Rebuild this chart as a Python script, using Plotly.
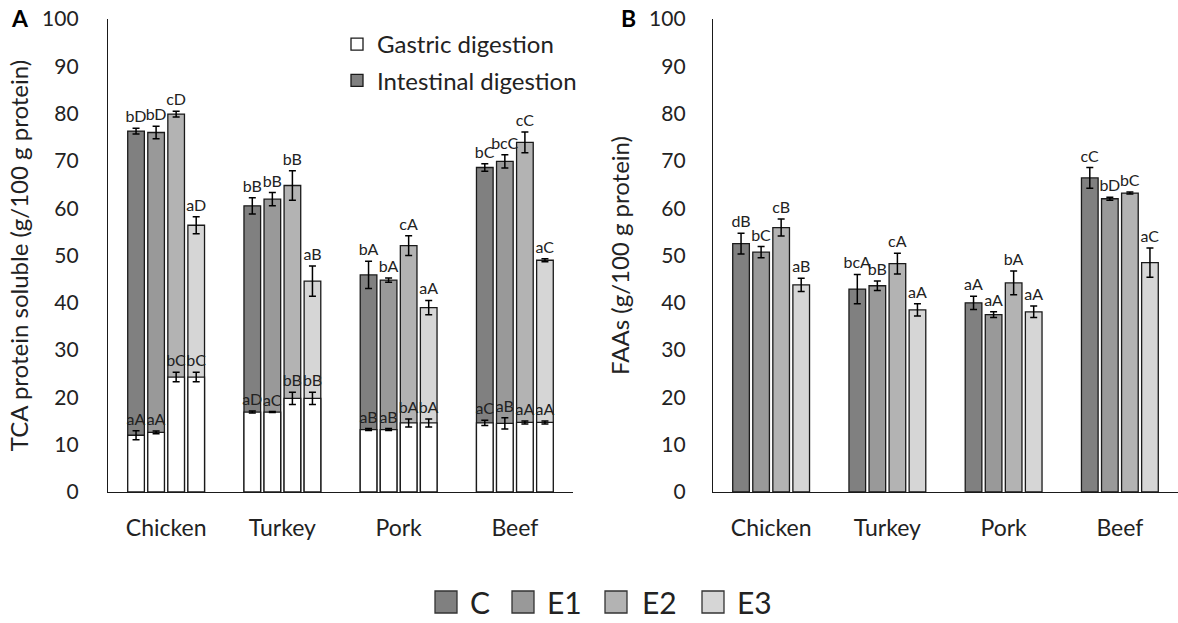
import plotly.graph_objects as go

categories = ["Chicken", "Turkey", "Pork", "Beef"]
treatments = ["C", "E1", "E2", "E3"]
colors = {"C": "#808080", "E1": "#999999", "E2": "#b3b3b3", "E3": "#d6d6d6"}

# Panel A: TCA soluble protein (g/100 g protein)
gastric = {
    "C":  [12.0, 16.9, 13.2, 14.6],
    "E1": [12.6, 16.9, 13.2, 14.5],
    "E2": [24.3, 19.8, 14.6, 14.7],
    "E3": [24.3, 19.8, 14.6, 14.7],
}
gastric_err = {
    "C":  [0.95, 0.2, 0.2, 0.55],
    "E1": [0.3, 0.1, 0.2, 1.2],
    "E2": [1.0, 1.3, 0.85, 0.3],
    "E3": [1.0, 1.3, 0.85, 0.3],
}
gastric_lbl = {
    "C":  ["aA", "aD", "aB", "aC"],
    "E1": ["aA", "aC", "aB", "aB"],
    "E2": ["bC", "bB", "bA", "aA"],
    "E3": ["bC", "bB", "bA", "aA"],
}
intestinal = {
    "C":  [76.3, 60.5, 45.9, 68.6],
    "E1": [76.0, 61.9, 44.8, 69.9],
    "E2": [79.9, 64.8, 52.1, 73.9],
    "E3": [56.4, 44.6, 39.0, 49.0],
}
intestinal_err = {
    "C":  [0.6, 1.7, 2.9, 0.8],
    "E1": [1.3, 1.4, 0.45, 1.4],
    "E2": [0.6, 3.1, 2.1, 2.2],
    "E3": [1.8, 3.2, 1.5, 0.3],
}
intestinal_lbl = {
    "C":  ["bD", "bB", "bA", "bC"],
    "E1": ["bD", "bB", "bA", "bcC"],
    "E2": ["cD", "bB", "cA", "cC"],
    "E3": ["aD", "aB", "aA", "aC"],
}

# Panel B: FAAs (g/100 g protein)
faas = {
    "C":  [52.5, 42.9, 40.0, 66.4],
    "E1": [50.7, 43.6, 37.5, 62.0],
    "E2": [55.9, 48.3, 44.2, 63.2],
    "E3": [43.8, 38.5, 38.1, 48.5],
}
faas_err = {
    "C":  [2.2, 3.1, 1.4, 2.2],
    "E1": [1.2, 1.0, 0.6, 0.3],
    "E2": [1.8, 2.2, 2.5, 0.2],
    "E3": [1.4, 1.3, 1.2, 3.1],
}
faas_lbl = {
    "C":  ["dB", "bcA", "aA", "cC"],
    "E1": ["bC", "bB", "aA", "bD"],
    "E2": ["cB", "cA", "bA", "bC"],
    "E3": ["aB", "aA", "aA", "aC"],
}

FONT = "Lato"
TXT = "#222222"
W, H = 1178, 623

fig = go.Figure()

def err(arr):
    return dict(type="data", array=arr, visible=True, color="black", thickness=1.5, width=3.5)

# Panel A intestinal (full height), then gastric overlaid
for t in treatments:
    fig.add_trace(go.Bar(
        x=categories, y=intestinal[t], offsetgroup=t, xaxis="x", yaxis="y",
        marker=dict(color=colors[t], line=dict(color="#1a1a1a", width=1.3)),
        error_y=err(intestinal_err[t]),
        name="Intestinal digestion", legendgroup="int", legendrank=2,
        showlegend=(t == "C"), hoverinfo="x+y",
    ))
for t in treatments:
    fig.add_trace(go.Bar(
        x=categories, y=gastric[t], offsetgroup=t, xaxis="x", yaxis="y",
        marker=dict(color="white", line=dict(color="#1a1a1a", width=1.3)),
        error_y=err(gastric_err[t]),
        name="Gastric digestion", legendgroup="gas", legendrank=1,
        showlegend=(t == "C"), hoverinfo="x+y",
    ))

# Panel B
for t in treatments:
    fig.add_trace(go.Bar(
        x=categories, y=faas[t], offsetgroup=t, xaxis="x2", yaxis="y2",
        marker=dict(color=colors[t], line=dict(color="#1a1a1a", width=1.3)),
        error_y=err(faas_err[t]),
        name=t, showlegend=False, hoverinfo="x+y",
    ))

# Significance letters: transparent bars reaching the error-bar tops, text outside
def label_trace(vals, errs, lbls, t, xa, ya):
    tops = [v + e for v, e in zip(vals, errs)]
    return go.Bar(
        x=categories, y=tops, offsetgroup=t, xaxis=xa, yaxis=ya,
        marker=dict(color="rgba(0,0,0,0)", line=dict(width=0)),
        text=lbls, textposition="outside", constraintext="none", cliponaxis=False,
        textfont=dict(family=FONT, size=16, color=TXT),
        outsidetextfont=dict(family=FONT, size=16, color=TXT),
        showlegend=False, hoverinfo="skip",
    )

for t in treatments:
    fig.add_trace(label_trace(intestinal[t], intestinal_err[t], intestinal_lbl[t], t, "x", "y"))
    fig.add_trace(label_trace(gastric[t], gastric_err[t], gastric_lbl[t], t, "x", "y"))
    fig.add_trace(label_trace(faas[t], faas_err[t], faas_lbl[t], t, "x2", "y2"))

ydom = [(H - 492) / H, (H - 19) / H]
axis_common = dict(showgrid=False, zeroline=False, showline=True, linecolor="#1a1a1a", linewidth=1.3,
                   ticks="", automargin=False)
xfont = dict(family=FONT, size=23, color=TXT)
yfont = dict(family=FONT, size=21, color=TXT)
tfont = dict(family=FONT, size=24, color=TXT)

fig.update_layout(
    width=W, height=H,
    margin=dict(l=0, r=0, t=0, b=0, autoexpand=False),
    paper_bgcolor="white", plot_bgcolor="white",
    barmode="group", bargap=0.31, bargroupgap=0.17,
    font=dict(family=FONT, color=TXT),
    xaxis=dict(domain=[108 / W, 573 / W], anchor="y", ticklabelstandoff=15, tickfont=xfont, **axis_common),
    yaxis=dict(domain=ydom, anchor="x", range=[0, 100], dtick=10, ticklabelstandoff=24, tickfont=yfont,
               title=dict(text="TCA protein soluble (g/100 g protein)", font=tfont, standoff=6),
               **axis_common),
    xaxis2=dict(domain=[713 / W, 1.0], anchor="y2", ticklabelstandoff=15, tickfont=xfont, **axis_common),
    yaxis2=dict(domain=ydom, anchor="x2", range=[0, 100], dtick=10, ticklabelstandoff=22, tickfont=yfont,
                title=dict(text="FAAs (g/100 g protein)", font=tfont, standoff=12),
                **axis_common),
    legend=dict(x=337 / W, y=1 - 22 / H, xanchor="left", yanchor="top",
                bgcolor="rgba(0,0,0,0)", font=dict(family=FONT, size=24, color=TXT),
                traceorder="grouped", tracegroupgap=2),
    showlegend=True,
)

# Panel letters
fig.add_annotation(text="<b>A</b>", x=20 / W, y=1 - 18 / H, xref="paper", yref="paper",
                   xanchor="center", yanchor="middle",
                   showarrow=False, font=dict(family=FONT, size=23, color="black"))
fig.add_annotation(text="<b>B</b>", x=628 / W, y=1 - 18 / H, xref="paper", yref="paper",
                   xanchor="center", yanchor="middle",
                   showarrow=False, font=dict(family=FONT, size=23, color="black"))

# Bottom treatment legend
sq_left = [435, 512, 605, 702]
txt_left = [468, 545, 640, 735]
for t, sx, tx in zip(treatments, sq_left, txt_left):
    fig.add_shape(type="rect", xref="paper", yref="paper",
                  x0=sx / W, x1=(sx + 22) / W, y0=1 - 613 / H, y1=1 - 591 / H,
                  fillcolor=colors[t], line=dict(color="#333333", width=1.3))
    fig.add_annotation(text=t, x=tx / W, y=1 - 602 / H, xref="paper", yref="paper",
                       xanchor="left", yanchor="middle", showarrow=False,
                       font=dict(family=FONT, size=30, color=TXT))

fig.write_html("out.html")
